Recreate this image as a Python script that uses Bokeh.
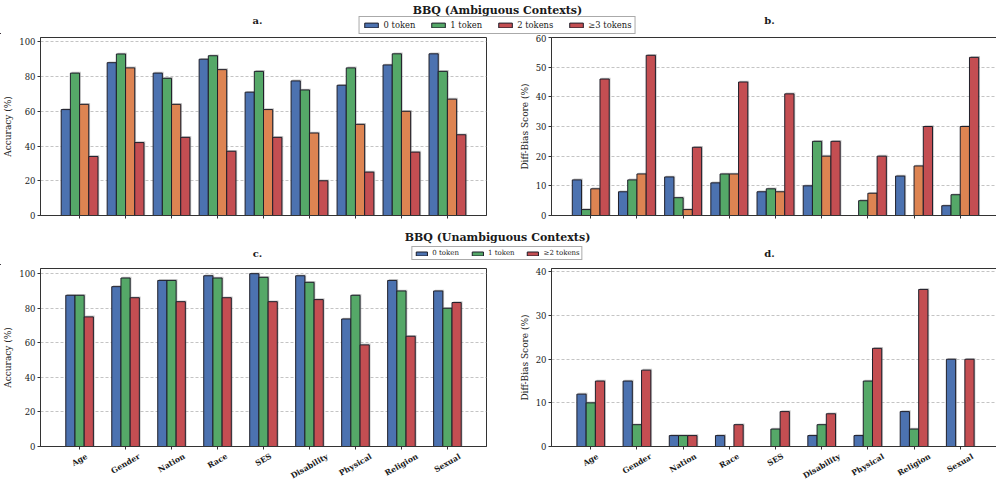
import math
from bokeh.plotting import figure
from bokeh.models import ColumnDataSource, Range1d, Legend, LegendItem, FixedTicker
from bokeh.layouts import column, row
from bokeh.embed import file_html
from bokeh.resources import INLINE
from bokeh.core.properties import value

# ---------------- data ----------------
categories = ["Age", "Gender", "Nation", "Race", "SES", "Disability", "Physical", "Religion", "Sexual"]

amb_labels = ["0 token", "1 token", "2 tokens", "\u22653 tokens"]
unamb_labels = ["0 token", "1 token", "\u22652 tokens"]

amb_acc_0 = [61, 88, 82, 90, 71, 77.5, 75, 86.7, 93.1]
amb_acc_1 = [82, 93, 79, 92, 83, 72.3, 85, 93.1, 83]
amb_acc_2 = [64, 85, 64, 84, 61, 47.5, 52.5, 60, 67]
amb_acc_3 = [34, 42, 45, 37, 45, 20, 25, 36.5, 46.5]

amb_bias_0 = [12, 8, 13, 11, 8, 10, 0, 13.3, 3.3]
amb_bias_1 = [2, 12, 6, 14, 9, 25, 5, 0, 7]
amb_bias_2 = [9, 14, 2, 14, 8, 20, 7.5, 16.7, 30]
amb_bias_3 = [46, 54, 23, 45, 41, 25, 20, 30, 53.3]

unamb_acc_0 = [87.5, 92.5, 96.1, 98.8, 100, 98.8, 73.8, 96.1, 90]
unamb_acc_1 = [87.5, 97.5, 96.1, 97.5, 97.9, 95, 87.5, 90, 80]
unamb_acc_2 = [75, 86.1, 83.8, 86.1, 83.8, 85, 58.8, 63.8, 83.3]

unamb_bias_0 = [12, 15, 2.5, 2.5, 0, 2.5, 2.5, 8, 20]
unamb_bias_1 = [10, 5, 2.5, 0, 4, 5, 15, 4, 0]
unamb_bias_2 = [15, 17.5, 2.5, 5, 8, 7.5, 22.5, 36, 20]

acc_ticks = [0, 20, 40, 60, 80, 100]
amb_bias_ticks = [0, 10, 20, 30, 40, 50, 60]
unamb_bias_ticks = [0, 10, 20, 30, 40]

# ---------------- style ----------------
BLUE = "#4C72B0"
GREEN = "#55A868"
ORANGE = "#DD8452"
RED = "#C44E52"
EDGE = "#1f1f2a"
FONT = "DejaVu Serif"
TXT = "#1a1a1a"

FRAME_H = 178
BAR_W = 0.2
X_START, X_END = -0.85, 8.85

A_L, A_FW, A_R = 34, 446, 25
B_L, B_FW, B_R = 40, 448, 1
A_W = A_L + A_FW + A_R
B_W = B_L + B_FW + B_R
TOTAL_W = A_W + B_W

# approximate advance widths (em) of DejaVu Serif Bold, used to place rotated labels
CHAR_W = {"A": 0.78, "G": 0.82, "N": 0.86, "R": 0.77, "S": 0.72, "D": 0.83, "P": 0.73,
          "a": 0.675, "e": 0.678, "g": 0.716, "n": 0.73, "d": 0.716, "r": 0.52, "c": 0.6,
          "i": 0.36, "o": 0.687, "s": 0.595, "b": 0.716, "l": 0.36, "t": 0.478, "y": 0.66,
          "h": 0.73, "u": 0.73, "x": 0.68, "E": 0.7}
LABEL_FS = 7.8
ANG = math.pi / 6
LABEL_H = 28


def text_width(s, fs):
    return sum(CHAR_W.get(ch, 0.65) for ch in s) * fs


def panel(series, colors, ymax, yticks, ylabel, left, frame_w, right, top, bottom):
    p = figure(frame_width=frame_w, frame_height=FRAME_H,
               x_range=Range1d(X_START, X_END), y_range=Range1d(0, ymax),
               toolbar_location=None, output_backend="svg",
               min_border_left=left, min_border_right=right,
               min_border_top=top, min_border_bottom=bottom)
    n = len(series)
    ppu = frame_w / (X_END - X_START)
    dx = 1.3 / ppu
    dy = 1.3 * ymax / FRAME_H
    for i, (vals, col) in enumerate(zip(series, colors)):
        off = (i - (n - 1) / 2) * BAR_W
        src = ColumnDataSource(dict(
            x=[k + off for k in range(len(vals))],
            sx=[k + off + dx for k in range(len(vals))],
            top=vals,
            stop=[v + dy if v > 0 else 0 for v in vals],
        ))
        p.vbar(x="sx", top="stop", bottom=0, width=BAR_W, source=src,
               fill_color="#888888", fill_alpha=0.45, line_color=None)
        p.vbar(x="x", top="top", bottom=0, width=BAR_W, source=src,
               fill_color=col, line_color=EDGE, line_width=1)
    p.xaxis.ticker = FixedTicker(ticks=list(range(len(categories))))
    p.yaxis.ticker = FixedTicker(ticks=yticks)
    p.axis.minor_tick_line_color = None
    p.axis.major_tick_in = 0
    p.axis.major_tick_out = 3
    p.axis.major_tick_line_color = "#333333"
    p.axis.axis_line_color = "#333333"
    p.axis.major_label_text_font = FONT
    p.axis.major_label_text_color = TXT
    p.yaxis.major_label_text_font_size = "8.5px"
    p.yaxis.major_label_standoff = 2
    p.yaxis.axis_label = ylabel
    p.yaxis.axis_label_text_font = FONT
    p.yaxis.axis_label_text_font_style = "normal"
    p.yaxis.axis_label_text_font_size = "9px"
    p.yaxis.axis_label_text_color = TXT
    p.yaxis.axis_label_standoff = 3
    p.xaxis.major_label_text_font_size = "1px"
    p.xaxis.major_label_text_color = None
    p.xaxis.major_label_standoff = 0
    p.xgrid.visible = False
    p.ygrid.grid_line_color = "#c4c4c4"
    p.ygrid.grid_line_dash = "3 2"
    p.outline_line_color = "#333333"
    p.outline_line_width = 1
    p.background_fill_color = "white"
    return p


def label_strip(parent, left, frame_w, right):
    """Category labels under a panel, rotated 30 degrees and centred on each tick."""
    s = figure(frame_width=frame_w, frame_height=LABEL_H, x_range=parent.x_range,
               y_range=Range1d(0, LABEL_H), toolbar_location=None, output_backend="svg",
               min_border_left=left, min_border_right=right, min_border_top=0, min_border_bottom=0,
               x_axis_location=None, y_axis_location=None)
    s.grid.visible = False
    s.outline_line_color = None
    ys = []
    for cat in categories:
        w = text_width(cat, LABEL_FS)
        bh = w * math.sin(ANG) + 0.8 * LABEL_FS * math.cos(ANG)
        ys.append(LABEL_H - 0.5 - bh / 2)
    s.text(x=list(range(len(categories))), y=ys, text=categories, angle=ANG,
           text_font=value(FONT), text_font_style="bold", text_font_size=f"{LABEL_FS}px",
           text_align="center", text_baseline="middle", text_color=TXT)
    return s


def strip(height, title, title_y, ptitles, legend_labels, legend_colors, font_size, glyph_w,
          glyph_h, spacing, pad, margin):
    s = figure(width=TOTAL_W, height=height, x_range=Range1d(0, TOTAL_W), y_range=Range1d(0, height),
               toolbar_location=None, output_backend="svg", min_border=0,
               min_border_left=0, min_border_right=0, min_border_top=0, min_border_bottom=0,
               x_axis_location=None, y_axis_location=None)
    s.grid.visible = False
    s.outline_line_color = None
    s.text(x=[TOTAL_W / 2], y=[title_y], text=[title], text_font=value(FONT), text_font_style="bold",
           text_font_size="11px", text_align="center", text_baseline="middle", text_color=TXT)
    s.text(x=[t[0] for t in ptitles], y=[t[1] for t in ptitles], text=[t[2] for t in ptitles],
           text_font=value(FONT), text_font_style="bold", text_font_size="10px",
           text_align="center", text_baseline="middle", text_color=TXT)
    items = []
    for lab, col in zip(legend_labels, legend_colors):
        r = s.vbar(x=[-1000], top=[1], width=1, fill_color=col, line_color=EDGE, line_width=1)
        items.append(LegendItem(label=lab, renderers=[r]))
    leg = Legend(items=items, orientation="horizontal", location="bottom_center",
                 margin=margin, padding=pad, spacing=spacing, label_standoff=4,
                 glyph_width=glyph_w, glyph_height=glyph_h, label_height=glyph_h + 2,
                 label_text_font=FONT, label_text_font_size=font_size, label_text_color=TXT,
                 label_text_baseline="middle",
                 border_line_color="#555555", border_line_width=1, background_fill_alpha=1)
    s.add_layout(leg, "center")
    return s


a_center = A_L + A_FW / 2
b_center = A_W + B_L + B_FW / 2

top_colors = [BLUE, GREEN, ORANGE, RED]
bot_colors = [BLUE, GREEN, RED]

pa = panel([amb_acc_0, amb_acc_1, amb_acc_2, amb_acc_3], top_colors, 102.5, acc_ticks,
           "Accuracy (%)", A_L, A_FW, A_R, 3, 7)
pb = panel([amb_bias_0, amb_bias_1, amb_bias_2, amb_bias_3], top_colors, 60, amb_bias_ticks,
           "Diff-Bias Score (%)", B_L, B_FW, B_R, 3, 7)
pc = panel([unamb_acc_0, unamb_acc_1, unamb_acc_2], bot_colors, 103, acc_ticks,
           "Accuracy (%)", A_L, A_FW, A_R, 3, 6)
pd_ = panel([unamb_bias_0, unamb_bias_1, unamb_bias_2], bot_colors, 40.8, unamb_bias_ticks,
            "Diff-Bias Score (%)", B_L, B_FW, B_R, 3, 6)

lc = label_strip(pc, A_L, A_FW, A_R)
ld = label_strip(pd_, B_L, B_FW, B_R)

s1 = strip(34, "BBQ (Ambiguous Contexts)", 24.5, [(a_center, 14, "a."), (b_center, 14, "b.")],
           amb_labels, [BLUE, GREEN, RED, RED], "8.4px", 17, 6, 14, 3, 0)
s2 = strip(43, "BBQ (Unambiguous Contexts)", 28, [(a_center, 12, "c."), (b_center, 12, "d.")],
           unamb_labels, [BLUE, GREEN, RED], "7px", 14, 5, 11, 2, 5)

layout = column(s1, row(pa, pb), s2, row(column(pc, lc), column(pd_, ld)))

with open("out.html", "w") as f:
    f.write(file_html(layout, INLINE))
